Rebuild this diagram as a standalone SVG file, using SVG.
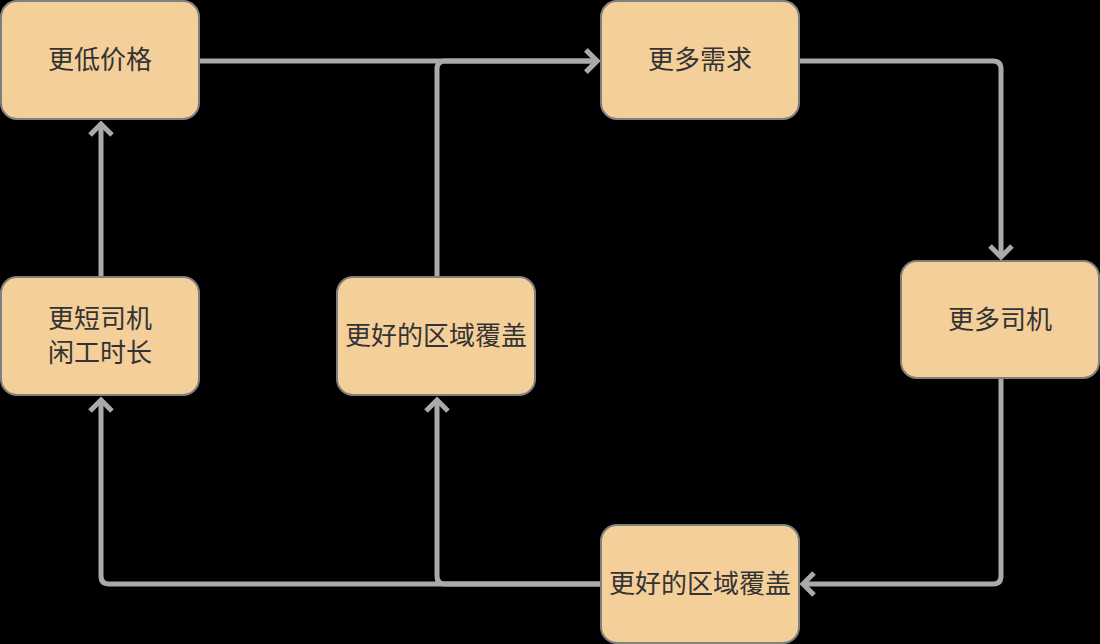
<svg xmlns="http://www.w3.org/2000/svg" width="1100" height="644" viewBox="0 0 1100 644">
  <style>
    .box { fill: #f4cf9a; stroke: #808080; stroke-width: 2; }
    .lbl { font-family: "Noto Sans CJK SC", "Noto Sans", sans-serif; font-size: 26px; fill: #333333; text-anchor: middle; }
    .edge { fill: none; stroke: #aaaaaa; stroke-width: 5; stroke-linejoin: round; }
  </style>
  <defs>
    <marker id="arr" markerUnits="userSpaceOnUse" markerWidth="30" markerHeight="30" viewBox="-15 -15 30 30" refX="0" refY="0" orient="auto" overflow="visible">
      <path d="M-11,-11 L0,0 L-11,11" fill="none" stroke="#aaaaaa" stroke-width="5" stroke-linejoin="miter"/>
    </marker>
  </defs>
  <rect x="0" y="0" width="1100" height="644" fill="#000000"/>
  <g id="connectors">
    <path class="edge" d="M199,61 L597,61" marker-end="url(#arr)"/>
    <path class="edge" d="M799,61 L993,61 Q1001,61 1001,69 L1001,257" marker-end="url(#arr)"/>
    <path class="edge" d="M1001,378 L1001,576 Q1001,584 993,584 L803,584" marker-end="url(#arr)"/>
    <path class="edge" d="M601,584 L109,584 Q101,584 101,576 L101,400" marker-end="url(#arr)"/>
    <path class="edge" d="M601,584 L445,584 Q437,584 437,576 L437,400" marker-end="url(#arr)"/>
    <path class="edge" d="M437,277 L437,69 Q437,61 445,61 L597,61" marker-end="url(#arr)"/>
    <path class="edge" d="M101,277 L101,124" marker-end="url(#arr)"/>
  </g>
  <g id="node-lower-price">
    <rect class="box" x="1" y="1" width="198" height="118" rx="16"/>
    <text class="lbl" x="100" y="69">更低价格</text>
  </g>
  <g id="node-more-demand">
    <rect class="box" x="601" y="1" width="198" height="118" rx="16"/>
    <text class="lbl" x="700" y="69">更多需求</text>
  </g>
  <g id="node-more-drivers">
    <rect class="box" x="901" y="261" width="198" height="117" rx="16"/>
    <text class="lbl" x="1000" y="329">更多司机</text>
  </g>
  <g id="node-coverage-bottom">
    <rect class="box" x="601" y="525" width="198" height="118" rx="16"/>
    <text class="lbl" x="700" y="593">更好的区域覆盖</text>
  </g>
  <g id="node-idle-time">
    <rect class="box" x="1" y="277" width="198" height="118" rx="16"/>
    <text class="lbl" x="100" y="328">更短司机</text>
    <text class="lbl" x="100" y="362">闲工时长</text>
  </g>
  <g id="node-coverage-middle">
    <rect class="box" x="337" y="277" width="198" height="118" rx="16"/>
    <text class="lbl" x="436" y="345">更好的区域覆盖</text>
  </g>
</svg>
